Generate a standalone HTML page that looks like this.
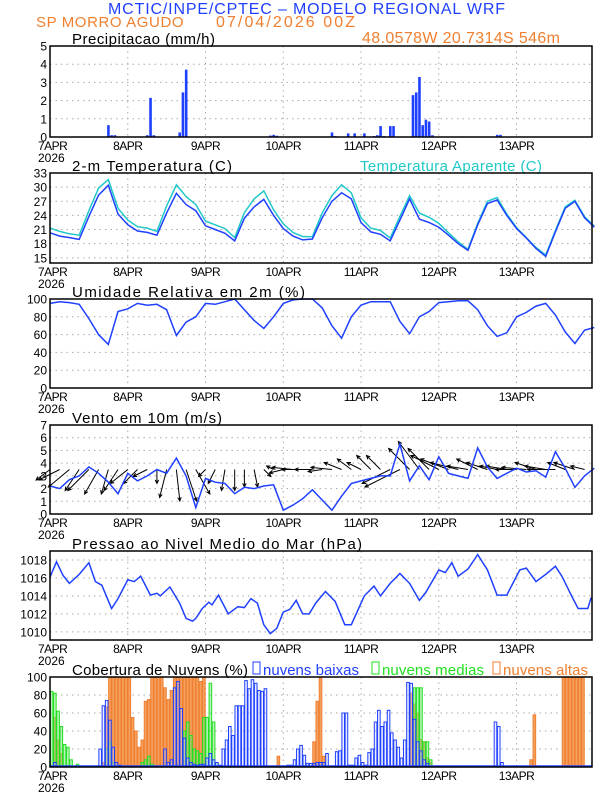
<!DOCTYPE html>
<html><head><meta charset="utf-8"><style>
html,body{margin:0;padding:0;background:#fff;width:612px;height:792px;overflow:hidden}
svg{display:block;font-family:"Liberation Sans",sans-serif}
</style></head><body>
<svg id="c" width="612" height="792" viewBox="0 0 612 792" xmlns="http://www.w3.org/2000/svg">
<text x="108" y="14" textLength="397" lengthAdjust="spacing" font-size="16" fill="#2040ff">MCTIC/INPE/CPTEC – MODELO REGIONAL WRF</text>
<text x="36" y="27" font-size="15" fill="#f08030" letter-spacing="0.6">SP MORRO AGUDO</text>
<text x="216" y="27" textLength="139" lengthAdjust="spacing" font-size="16" fill="#f08030">07/04/2026 00Z</text>
<text x="362" y="43" textLength="198" lengthAdjust="spacing" font-size="16" fill="#f08030">48.0578W 20.7314S 546m</text>
<text x="72" y="44" textLength="143" lengthAdjust="spacing" font-size="15">Precipitacao (mm/h)</text>
<text x="72" y="171" textLength="160" lengthAdjust="spacing" font-size="15">2-m Temperatura (C)</text>
<text x="360" y="171" textLength="182" lengthAdjust="spacing" font-size="15" fill="#20c8c8">Temperatura Aparente (C)</text>
<text x="72" y="297" textLength="233" lengthAdjust="spacing" font-size="15">Umidade Relativa em 2m (%)</text>
<text x="72" y="423" textLength="150" lengthAdjust="spacing" font-size="15">Vento em 10m (m/s)</text>
<text x="72" y="549" textLength="290" lengthAdjust="spacing" font-size="15">Pressao ao Nivel Medio do Mar (hPa)</text>
<text x="72" y="675" textLength="176" lengthAdjust="spacing" font-size="15">Cobertura de Nuvens (%)</text>
<rect x="253" y="662" width="7" height="12" fill="none" stroke="#2040ff"/>
<text x="263" y="675" textLength="96" lengthAdjust="spacing" font-size="15" fill="#2040ff">nuvens baixas</text>
<rect x="372" y="662" width="7" height="12" fill="none" stroke="#20e020"/>
<text x="382" y="675" textLength="102" lengthAdjust="spacing" font-size="15" fill="#20e020">nuvens medias</text>
<rect x="493" y="662" width="7" height="12" fill="none" stroke="#f08030"/>
<text x="503" y="675" textLength="85" lengthAdjust="spacing" font-size="15" fill="#f08030">nuvens altas</text>
</svg>
<script>
const dayLabels=["7APR","8APR","9APR","10APR","11APR","12APR","13APR"];
const precipHours=[18,19,20,30,31,32,40,41,42,59,63,68,69,70,71,87,88,92,94,97,100,101,102,103,105,106,109,112,113,114,115,116,117,118,138,139];
const precipVals=[0.65,0.1,0.1,0.1,2.15,0.1,0.25,2.45,3.7,0.02,0.02,0.08,0.12,0.07,0.02,0.25,0.05,0.2,0.2,0.2,0.05,0.1,0.6,0.05,0.6,0.6,0.02,2.3,2.45,3.3,0.65,0.95,0.85,0.1,0.12,0.12];
const temp=[20.3,19.6,19.3,18.9,23.8,28.3,30.4,24.3,22.0,20.7,20.4,19.8,24.5,28.7,26.3,25.0,21.8,21.0,20.2,18.6,23.4,25.8,27.4,24.0,21.2,19.6,18.8,19.0,23.5,27.0,28.8,27.5,22.5,20.5,20.0,18.6,23.0,27.5,23.2,22.5,21.5,19.8,18.0,16.6,22.0,26.5,27.3,24.0,21.2,19.2,17.0,15.3,20.5,25.5,27.0,23.5,21.5];
const tempApp=[21.3,20.6,20.1,19.8,25.0,29.8,31.6,25.5,23.0,21.6,21.3,20.6,26.0,30.5,28.0,26.3,22.8,22.0,21.2,19.3,24.6,27.5,29.2,25.2,22.2,20.4,19.5,19.5,24.5,28.2,30.5,28.8,23.5,21.3,20.8,19.2,23.8,28.2,24.5,23.6,22.3,20.3,18.4,16.8,22.3,27.0,27.8,24.3,21.4,19.3,17.2,15.6,20.8,25.8,27.2,23.7,21.7];
const rh=[95,97,96,94,78,60,49,86,89,95,93,94,88,59,74,80,95,94,97,100,88,76,67,80,95,99,100,100,90,70,56,80,93,97,97,97,75,61,80,86,96,97,98,98,88,70,58,62,80,85,92,95,82,63,50,65,68];
const windSpd=[2.2,2.0,2.7,3.0,3.7,3.2,2.5,1.6,3.2,2.6,3.0,3.5,3.2,4.4,3.0,0.5,2.8,2.5,2.4,1.6,2.1,2.0,2.2,2.3,0.3,0.7,1.2,1.9,1.1,0.3,1.4,2.4,2.6,2.8,3.0,3.0,5.5,2.6,3.8,2.7,4.5,3.2,3.0,2.8,5.2,3.7,2.8,3.2,3.6,3.3,3.4,2.9,4.9,3.6,2.1,3.0,3.6];
const windU=[-2,-3,-3,-2,-3,-2,-1,-2,-2.5,-2,-2,0,-1,0.5,1.5,2,-1,-1,-0.5,0,0,0.5,1,-1,-2,-3,-3,-2.5,-2,-3,-2.5,-2,-2,-2,-2,-4,-5,-3,-3,-3,-4,-4,-4,-3,-3,-3,-2.5,-3,-3,-3.5,-3,-3,-4,-2.5,-3,-2];
const windV=[-1.5,-1.5,-2.5,-3,-3,-3.5,-3.5,-3,-2,-2,-1,-2,-4,-4.5,-4.5,-3.5,-1,-2,-3,-3,-2.5,-2.5,-1,0.5,-0.5,0.3,0,0,-0.3,0.3,1,1.5,1,2,2,-2,-2.5,3,4,3,2,1.5,1,0.5,1.5,1,0.5,0.5,0,0.3,1,0.5,0,1,1,0.5];
const presHours=[0,2,4,6,9,12,14,16,19,21,24,26,28,31,33,34,37,40,42,44,45,47,49,50,52,55,58,60,62,64,66,68,70,72,74,76,78,80,82,85,88,91,93,97,100,102,105,108,111,114,116,120,122,124,126,129,132,135,138,141,145,147,150,153,156,158,161,163,166,167];
const presVals=[1016.1,1017.8,1016.3,1015.4,1016.4,1017.7,1015.6,1015.2,1012.6,1013.7,1015.8,1015.6,1016.2,1014.1,1014.3,1014.0,1015.0,1013.2,1011.5,1011.2,1011.5,1012.6,1013.3,1013.0,1014.1,1012.0,1012.8,1012.7,1013.7,1013.2,1010.8,1009.8,1010.4,1012.2,1012.5,1013.5,1012.0,1012.0,1013.2,1014.5,1013.4,1010.8,1010.8,1014.0,1015.1,1014.0,1015.4,1016.5,1015.4,1013.5,1014.4,1016.9,1016.6,1017.7,1016.2,1017.0,1018.6,1016.9,1014.1,1014.1,1016.9,1017.1,1015.6,1016.4,1017.3,1016.2,1014.0,1012.6,1012.6,1013.8];
const cloudLow=[0,5,0,0,0,0,0,0,0,0,0,0,0,0,0,20,68,74,52,22,5,2,0,0,0,0,0,0,0,0,0,0,0,0,0,20,5,8,88,95,65,32,10,5,3,2,3,3,10,15,8,5,2,20,30,45,35,68,68,68,96,87,97,93,85,84,87,0,0,0,0,0,0,2,2,8,20,24,13,4,4,4,5,5,5,15,0,0,17,18,60,60,2,2,10,13,5,2,16,20,50,63,45,50,63,38,30,22,10,30,94,93,53,28,18,8,4,0,0,0,0,0,0,0,0,0,0,0,0,0,0,0,0,0,0,0,0,50,45,5,0,0,0,0,0,0,0,0,0,0,0,0,0,0,0,0,0,0,0,0,0,0,0,0,0];
const cloudMid=[84,82,62,45,25,22,8,0,3,0,0,0,0,0,0,0,0,20,28,5,0,0,0,0,0,0,0,0,5,8,12,3,0,0,0,0,0,0,0,0,0,40,50,35,20,18,15,55,55,93,50,5,0,0,0,0,0,0,0,0,0,0,0,0,0,0,0,0,0,0,0,0,0,0,0,0,0,0,0,0,0,0,0,0,0,0,0,0,0,0,0,0,0,0,0,0,0,0,0,0,0,0,0,0,0,0,0,0,0,0,0,0,88,88,88,28,28,8,0,0,0,0,0,0,0,0,0,0,0,0,0,0,0,0,0,0,0,0,0,0,0,0,0,0,0,0,0,0,0,0,0,0,0,0,0,0,0,0,0,0,0,0,0,0];
const cloudHigh=[0,55,30,15,0,0,0,0,0,0,0,0,0,0,0,0,5,67,100,100,100,100,100,100,100,55,40,22,30,73,75,100,100,100,100,88,75,85,100,100,100,100,100,100,100,100,95,100,0,0,0,0,0,0,0,0,0,0,0,0,0,0,0,0,0,0,0,0,0,0,12,0,0,0,0,0,0,0,0,0,0,28,73,100,12,0,0,0,0,0,0,0,0,0,0,0,0,0,0,0,0,0,0,0,0,0,0,0,0,0,0,82,70,60,30,28,10,5,0,0,0,0,0,0,0,0,0,0,0,0,0,0,0,0,0,0,0,0,0,0,0,0,0,0,0,0,0,0,8,58,0,0,0,0,0,0,0,0,100,100,100,100,100,100,100];

const svg=document.getElementById('c');
const NS='http://www.w3.org/2000/svg';
const X0=50,X1=592,PXH=3.24;
function x(h){return X0+h*PXH;}
function mk(tag,attrs,parent){const e=document.createElementNS(NS,tag);for(const k in attrs)e.setAttribute(k,attrs[k]);(parent||svg).appendChild(e);return e;}
const panels=[
 {name:'precip',top:46,bot:137,min:0,max:5,ticks:[0,1,2,3,4,5]},
 {name:'temp',top:173,bot:263,min:13.9,max:33,ticks:[15,18,21,24,27,30,33]},
 {name:'humidity',top:299,bot:388,min:0,max:100,ticks:[0,20,40,60,80,100]},
 {name:'wind',top:425,bot:514,min:0,max:7,ticks:[0,1,2,3,4,5,6,7]},
 {name:'pressure',top:551,bot:640,min:1009.1,max:1019,ticks:[1010,1012,1014,1016,1018]},
 {name:'cloud',top:677,bot:767,min:0,max:100,ticks:[0,20,40,60,80,100]}];
function yf(p){return v=>p.bot-(v-p.min)/(p.max-p.min)*(p.bot-p.top);}
panels.forEach(p=>{
 const g=mk('g',{});
 
 
 const y=yf(p);
 p.g=g;p.y=y;
 p.ticks.forEach(t=>{
  const l=mk('line',{x1:X0,x2:X1,y1:y(t),y2:y(t),stroke:'#aaa','stroke-dasharray':'1.5,4'},g);
  
  
  const tx=mk('text',{x:47,y:y(t)+4.5,'text-anchor':'end','font-size':'12'},g);
  
  
  tx.textContent=t;
 });
 dayLabels.forEach((d,i)=>{
  const xx=x(i*24);
  if(i>0){const l=mk('line',{x1:xx,x2:xx,y1:p.top,y2:p.bot,stroke:'#aaa','stroke-dasharray':'1.5,4'},g);
  
  }
  const tx=mk('text',{x:xx,y:p.bot+13,'text-anchor':i==0?'start':'middle','font-size':'12',dx:i==0?-12:0,'letter-spacing':'-0.5'},g);
  
  
  tx.textContent=d;
 });
 const yr=mk('text',{x:38,y:p.bot+25,'font-size':'12'},g);
 
 
 yr.textContent='2026';
});
function frame(p){const r=mk('rect',{x:X0,y:p.top,width:X1-X0,height:p.bot-p.top,fill:'none',stroke:'#000','stroke-width':1.5});
 
 }
function line(p,hours,vals,color,name){
 const d=vals.map((v,i)=>(i?'L':'M')+x(hours[i]).toFixed(1)+','+p.y(v).toFixed(1)).join('');
 const e=mk('path',{d:d,fill:'none',stroke:color,'stroke-width':1.5},p.g);
 
 
}
const h3=temp.map((_,i)=>i*3);
const P=panels[0];
precipVals.forEach((v,i)=>{
 const r=mk('rect',{x:x(precipHours[i])-1.2,y:P.y(v),width:2.6,height:P.bot-P.y(v),fill:'#2040ff'},P.g);
 
 
});
line(panels[1],h3,tempApp,'#20c8c8','apparent-temp-line');
line(panels[1],h3,temp,'#2040ff','temp-line');
line(panels[2],h3,rh,'#2040ff','humidity-line');
const W=panels[3];
windU.forEach((u,i)=>{
 const x0=x(i*3),y0=W.y(3.5),sc=7;
 const x1=x0+u*sc,y1=y0-windV[i]*sc;
 const a=Math.atan2(y1-y0,x1-x0),hl=4;
 const d='M'+x0+','+y0+'L'+x1+','+y1+'M'+(x1-hl*Math.cos(a-0.45))+','+(y1-hl*Math.sin(a-0.45))+'L'+x1+','+y1+'L'+(x1-hl*Math.cos(a+0.45))+','+(y1-hl*Math.sin(a+0.45));
 const e=mk('path',{d:d,fill:'none',stroke:'#000','stroke-width':1},W.g);
 
 
});
line(W,h3,windSpd,'#2040ff','wind-speed-line');
line(panels[4],presHours,presVals,'#2040ff','pressure-line');
const C=panels[5];
function bars(vals,fill,stroke,name){
 vals.forEach((v,i)=>{ if(v<=0)return;
  const r=mk('rect',{x:x(i)+0.3,y:C.y(v),width:2.6,height:C.bot-C.y(v),fill:fill,stroke:stroke,'stroke-width':1},C.g);
  
  
 });
}
bars(cloudHigh,'#f4a060','#f08030','cloud-high-bar');
bars(cloudMid,'rgba(120,230,120,0.5)','#20e020','cloud-mid-bar');
bars(cloudLow,'rgba(200,210,255,0.35)','#2040ff','cloud-low-bar');
const bl=mk('line',{x1:X0,x2:X1,y1:C.bot-1,y2:C.bot-1,stroke:'#2040ff','stroke-width':1.5},C.g);


panels.forEach(frame);
</script>
</body></html>
